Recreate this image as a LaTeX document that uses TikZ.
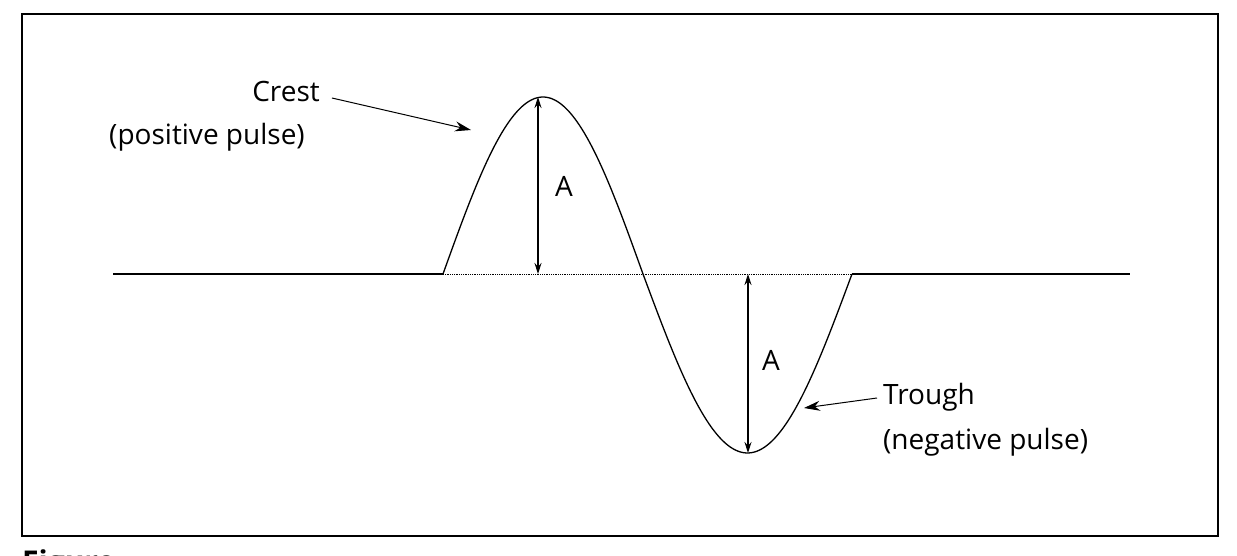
\documentclass[tikz,border=0pt]{standalone}
\usepackage{fontspec}
\setmainfont{Open Sans}
\usetikzlibrary{arrows.meta}
\begin{document}
\begin{tikzpicture}[x=1pt,y=-1pt,
  lbl/.style={font=\fontsize{28}{34}\selectfont, inner sep=0pt},
  dim/.style={{Stealth[length=11pt,width=7pt]}-{Stealth[length=11pt,width=7pt]}, line width=1.2pt},
  ptr/.style={-{Stealth[length=16pt,width=10pt]}, line width=1pt}]
\useasboundingbox (0,0) rectangle (1237,556);
\begin{scope}
\clip (0,0) rectangle (1237,556);
\node[font=\bfseries\fontsize{30}{36}\selectfont, anchor=north west, inner sep=0pt] (fig) at (22,550) {Figure};
\end{scope}
\draw[line width=1.5pt, fill=white] (22,14) rectangle (1218,536);
\coordinate (l0) at (113,274);
\coordinate (s) at (443,274);
\coordinate (e) at (852,274);
\coordinate (r0) at (1130,274);
\draw[line width=1.3pt] (l0) -- (s);
\draw[line width=1.3pt] (e) -- (r0);
\draw[densely dotted, line width=0.8pt] (s) -- (e);
\draw[line width=1.3pt, domain=0:180, samples=80] plot ({443+1.1111*\x}, {274-177*sin(\x)});
\draw[line width=1.3pt, domain=0:180, samples=80] plot ({643+1.1611*\x}, {274+179*sin(\x)});
\coordinate (c1) at (538,97); \coordinate (c0) at (538,274);
\coordinate (t1) at (748,453); \coordinate (t0) at (748,274);
\draw[dim] (c1) -- (c0);
\draw[dim] (t0) -- (t1);
\node[lbl] (a1) at (564,186) {A};
\node[lbl] (a2) at (771,360) {A};
\node[lbl] (crest) at (286,92) {Crest};
\node[lbl] (cp) at (207,137) {(positive pulse)};
\node[lbl, anchor=west] (trough) at (883,397) {Trough};
\node[lbl, anchor=west] (tp) at (883,442) {(negative pulse)};
\coordinate (ca) at (471,130);
\coordinate (ta) at (804,408);
\draw[ptr] (crest.east) ++(12,6) -- (ca);
\draw[ptr] (trough.west) ++(-6,1) -- (ta);
\end{tikzpicture}
\end{document}
